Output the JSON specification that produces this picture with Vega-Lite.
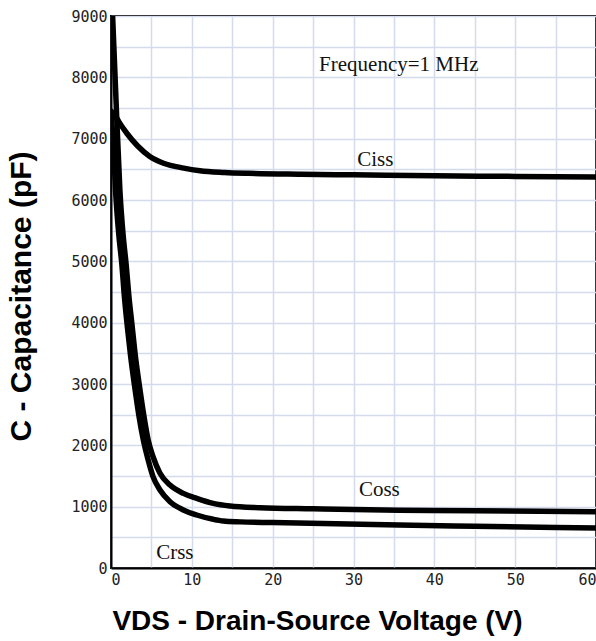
{
  "$schema": "https://vega.github.io/schema/vega-lite/v6.json",
  "width": 485,
  "height": 552,
  "autosize": {"type": "none"},
  "padding": {"left": 111, "top": 16, "right": 0, "bottom": 73},
  "background": "white",
  "config": {"view": {"stroke": "#000", "strokeWidth": 2}},
  "datasets": {
    "curves": [
      {"series": "Ciss", "v": 0, "c": 7450},
      {"series": "Ciss", "v": 0.5, "c": 7380},
      {"series": "Ciss", "v": 1, "c": 7270},
      {"series": "Ciss", "v": 2, "c": 7080},
      {"series": "Ciss", "v": 3.3, "c": 6880},
      {"series": "Ciss", "v": 4.8, "c": 6710},
      {"series": "Ciss", "v": 6.5, "c": 6600},
      {"series": "Ciss", "v": 9, "c": 6520},
      {"series": "Ciss", "v": 11, "c": 6478},
      {"series": "Ciss", "v": 14, "c": 6450},
      {"series": "Ciss", "v": 17, "c": 6435},
      {"series": "Ciss", "v": 23.5, "c": 6420},
      {"series": "Ciss", "v": 30, "c": 6410},
      {"series": "Ciss", "v": 40, "c": 6395},
      {"series": "Ciss", "v": 50, "c": 6385},
      {"series": "Ciss", "v": 60, "c": 6375},
      {"series": "Coss", "v": 0.2, "c": 9000},
      {"series": "Coss", "v": 0.62, "c": 7630},
      {"series": "Coss", "v": 1.1, "c": 6163},
      {"series": "Coss", "v": 1.5, "c": 5429},
      {"series": "Coss", "v": 1.88, "c": 4940},
      {"series": "Coss", "v": 2.2, "c": 4451},
      {"series": "Coss", "v": 2.6, "c": 3962},
      {"series": "Coss", "v": 3.0, "c": 3473},
      {"series": "Coss", "v": 3.5, "c": 2984},
      {"series": "Coss", "v": 4.05, "c": 2495},
      {"series": "Coss", "v": 4.6, "c": 2087},
      {"series": "Coss", "v": 5.2, "c": 1815},
      {"series": "Coss", "v": 6.06, "c": 1544},
      {"series": "Coss", "v": 7.3, "c": 1353},
      {"series": "Coss", "v": 8.95, "c": 1217},
      {"series": "Coss", "v": 10.6, "c": 1136},
      {"series": "Coss", "v": 12.65, "c": 1054},
      {"series": "Coss", "v": 14.7, "c": 1011},
      {"series": "Coss", "v": 18.4, "c": 983},
      {"series": "Coss", "v": 25, "c": 965},
      {"series": "Coss", "v": 35.6, "c": 942},
      {"series": "Coss", "v": 45, "c": 932},
      {"series": "Coss", "v": 60, "c": 917},
      {"series": "Crss", "v": 0, "c": 7400},
      {"series": "Crss", "v": 0.3, "c": 6900},
      {"series": "Crss", "v": 0.56, "c": 6163},
      {"series": "Crss", "v": 0.97, "c": 5429},
      {"series": "Crss", "v": 1.35, "c": 4940},
      {"series": "Crss", "v": 1.64, "c": 4451},
      {"series": "Crss", "v": 2.0, "c": 3962},
      {"series": "Crss", "v": 2.41, "c": 3473},
      {"series": "Crss", "v": 2.9, "c": 2984},
      {"series": "Crss", "v": 3.44, "c": 2495},
      {"series": "Crss", "v": 4.0, "c": 2087},
      {"series": "Crss", "v": 4.6, "c": 1761},
      {"series": "Crss", "v": 5.2, "c": 1490},
      {"series": "Crss", "v": 6.06, "c": 1272},
      {"series": "Crss", "v": 7.3, "c": 1082},
      {"series": "Crss", "v": 8.95, "c": 946},
      {"series": "Crss", "v": 10.6, "c": 864},
      {"series": "Crss", "v": 12.65, "c": 794},
      {"series": "Crss", "v": 13.9, "c": 766},
      {"series": "Crss", "v": 16, "c": 752},
      {"series": "Crss", "v": 20, "c": 740},
      {"series": "Crss", "v": 35.6, "c": 700},
      {"series": "Crss", "v": 45, "c": 680},
      {"series": "Crss", "v": 60, "c": 652}
    ],
    "notes": [
      {"label": "Frequency=1 MHz", "v": 35.6, "c": 8200},
      {"label": "Ciss", "v": 32.7, "c": 6652},
      {"label": "Coss", "v": 33.2, "c": 1272},
      {"label": "Crss", "v": 7.9, "c": 245}
    ]
  },
  "encoding": {
    "x": {
      "field": "v",
      "type": "quantitative",
      "scale": {"domain": [0, 60], "nice": false},
      "axis": {
        "values": [0, 5, 10, 15, 20, 25, 30, 35, 40, 45, 50, 55, 60],
        "labelExpr": "datum.value % 10 === 0 ? datum.label : ''",
        "labelOverlap": false,
        "ticks": false,
        "grid": true,
        "gridColor": "#d3dbed",
        "gridWidth": 1.5,
        "domainColor": "#000",
        "domainWidth": 2,
        "labelFont": "DejaVu Sans Mono",
        "labelFontSize": 15,
        "labelColor": "#222",
        "labelPadding": 4,
        "labelFlush": true,
        "title": "VDS - Drain-Source Voltage (V)",
        "titleFont": "Liberation Sans",
        "titleFontWeight": "bold",
        "titleFontSize": 28,
        "titleColor": "#000",
        "titlePadding": 20,
        "titleX": 206
      }
    },
    "y": {
      "field": "c",
      "type": "quantitative",
      "scale": {"domain": [0, 9000], "nice": false},
      "axis": {
        "values": [0, 500, 1000, 1500, 2000, 2500, 3000, 3500, 4000, 4500, 5000, 5500, 6000, 6500, 7000, 7500, 8000, 8500, 9000],
        "format": "d",
        "labelExpr": "datum.value % 1000 === 0 ? datum.label : ''",
        "labelOverlap": false,
        "ticks": false,
        "grid": true,
        "gridColor": "#d3dbed",
        "gridWidth": 1.5,
        "domainColor": "#000",
        "domainWidth": 2,
        "labelFont": "DejaVu Sans Mono",
        "labelFontSize": 15,
        "labelColor": "#222",
        "labelPadding": 4,
        "title": "C - Capacitance (pF)",
        "titleFont": "Liberation Sans",
        "titleFontWeight": "bold",
        "titleFontSize": 30,
        "titleColor": "#000",
        "titlePadding": 34,
        "titleY": 280
      }
    }
  },
  "layer": [
    {
      "data": {"name": "curves"},
      "mark": {"type": "line", "color": "#000", "strokeWidth": 5.5, "interpolate": "monotone", "clip": true, "strokeCap": "round", "strokeJoin": "round"},
      "encoding": {"detail": {"field": "series"}}
    },
    {
      "data": {"name": "notes"},
      "mark": {"type": "text", "font": "Liberation Serif", "fontSize": 21, "color": "#111", "align": "center", "baseline": "middle"},
      "encoding": {"text": {"field": "label"}}
    }
  ]
}
